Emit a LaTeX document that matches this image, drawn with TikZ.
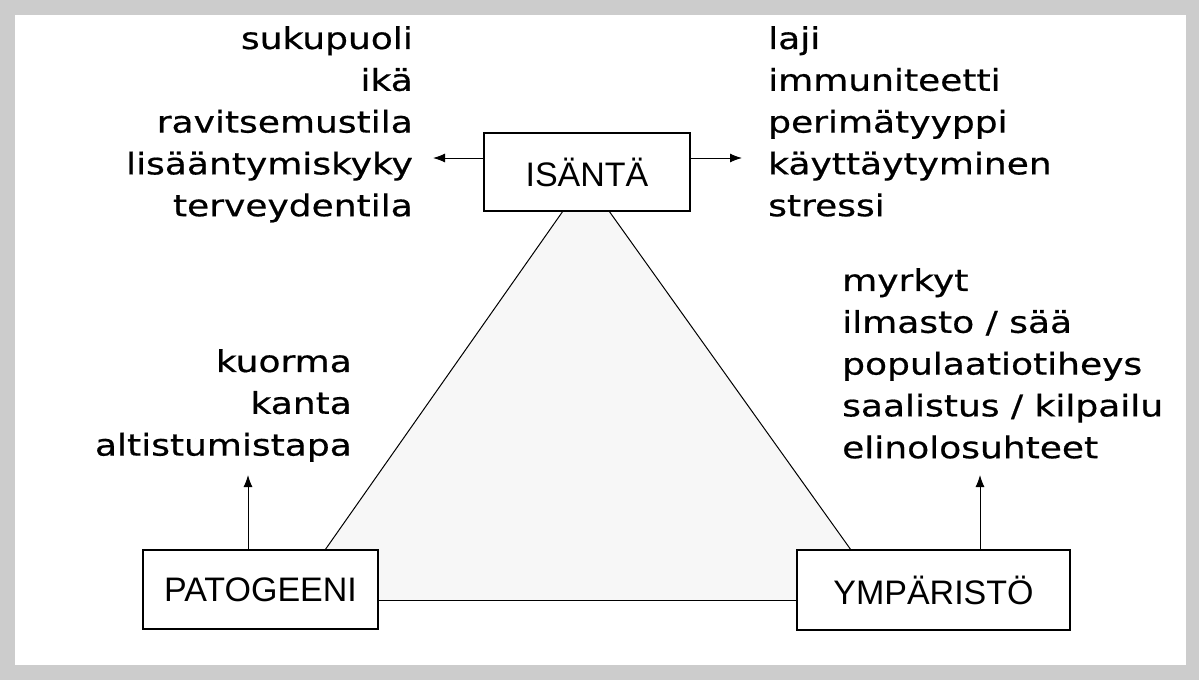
\documentclass[tikz,border=0pt]{standalone}
\usepackage{fontspec}
\setmainfont{DejaVu Sans}[FakeStretch=1.2,FakeBold=0.6]
\newfontfamily\boxfont{Liberation Sans}
\usetikzlibrary{arrows.meta}
\begin{document}
\begin{tikzpicture}[x=1pt,y=-1pt,
  lst/.style={inner sep=0pt,font=\fontsize{30}{41.8}\selectfont},
  bx/.style={draw,line width=1.5pt,inner sep=0pt,font=\boxfont\fontsize{34}{38}\selectfont},
  ln/.style={line width=1pt},
  ar/.style={ln,-{Latex[length=12pt,width=9pt]}}]
\fill[gray!40] (0,0) rectangle (1199,680);
\fill[white] (15,15) rectangle (1186,665);
\useasboundingbox (0,0) rectangle (1199,680);
\fill[gray!6] (563,211)--(609,211)--(851,550)--(797,550)--(797,600)--(378,600)--(378,550)--(325,550)--cycle;
\node[bx,minimum width=206pt,minimum height=78pt] (h) at (587,172) {ISÄNTÄ};
\node[bx,minimum width=235pt,minimum height=79pt] (p) at (260.5,589.5) {PATOGEENI};
\node[bx,minimum width=273pt,minimum height=80pt] (y) at (933.5,590) {YMPÄRISTÖ};
\draw[ln] (563,211) -- (325,550);
\draw[ln] (609,211) -- (851,550);
\coordinate (b1) at (378,600);
\draw[ln] (b1) -- (b1-|y.west);
\node[lst,align=right,anchor=north east] (hl) at (413,26) {sukupuoli\\ikä\\ravitsemustila\\lisääntymiskyky\\terveydentila};
\node[lst,align=left,anchor=north west] (hr) at (768,26) {laji\\immuniteetti\\perimätyyppi\\käyttäytyminen\\stressi};
\node[lst,align=right,anchor=north east] (pl) at (352,349) {kuorma\\kanta\\altistumistapa};
\node[lst,align=left,anchor=north west] (yl) at (842,268) {myrkyt\\ilmasto / sää\\populaatiotiheys\\saalistus / kilpailu\\elinolosuhteet};
\coordinate (a1) at (433,158); \coordinate (a2) at (742,158);
\coordinate (a3) at (248,475); \coordinate (a4) at (980,475);
\draw[ar] (h.west|-a1) -- (a1);
\draw[ar] (h.east|-a2) -- (a2);
\draw[ar] (a3|-p.north) -- (a3);
\draw[ar] (a4|-y.north) -- (a4);
\end{tikzpicture}
\end{document}
